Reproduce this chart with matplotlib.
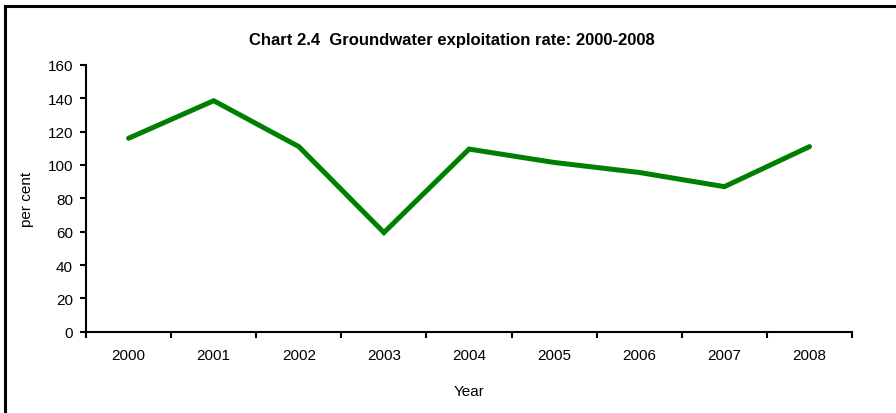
import matplotlib
matplotlib.use("Agg")
import matplotlib.pyplot as plt
from matplotlib.lines import Line2D

plt.rcParams['font.family'] = ['Liberation Sans', 'DejaVu Sans']

# data
years = ['2000', '2001', '2002', '2003', '2004', '2005', '2006', '2007', '2008']
rate = [116, 138.5, 111, 59.5, 109.5, 101.5, 95.5, 87, 111]
y_ticks = [0, 20, 40, 60, 80, 100, 120, 140, 160]

fig = plt.figure(figsize=(8.96, 4.14), dpi=100)
ax = fig.add_axes([0.096, 0.196, 0.855, 0.645])

x = list(range(len(years)))
ax.plot(x, rate, color='#008000', linewidth=3.6, solid_joinstyle='miter',
        solid_capstyle='round')

ax.set_xlim(-0.5, len(years) - 0.5)
ax.set_ylim(0, 160)
ax.set_yticks(y_ticks)

# excel style: tick marks between categories, labels centred
ax.set_xticks([i - 0.5 for i in range(len(years) + 1)])
ax.set_xticklabels([])
ax.set_xticks(x, minor=True)
ax.set_xticklabels(years, minor=True)
ax.tick_params(axis='x', which='minor', length=0, pad=11.5, labelsize=11)
ax.tick_params(axis='x', which='major', length=4.3, width=1.5, direction='out')
ax.tick_params(axis='y', length=4.3, width=1.5, direction='out', pad=5, labelsize=11)

for s in ['top', 'right']:
    ax.spines[s].set_visible(False)
for s in ['left', 'bottom']:
    ax.spines[s].set_linewidth(1.5)

ax.set_xlabel('Year', fontsize=11, labelpad=16)
ax.set_ylabel('per cent', fontsize=11, labelpad=10)

fig.text(0.504, 0.903, 'Chart 2.4  Groundwater exploitation rate: 2000-2008',
         ha='center', va='center', fontsize=12, fontweight='bold')

# chart frame (only top and left edges show in the reference)
fig.add_artist(Line2D([0.006, 1.0], [0.983, 0.983], color='black', linewidth=2.2,
                      transform=fig.transFigure))
fig.add_artist(Line2D([0.006, 0.006], [0.0, 0.983], color='black', linewidth=2.2,
                      transform=fig.transFigure))

fig.savefig('out.png', dpi=100)
